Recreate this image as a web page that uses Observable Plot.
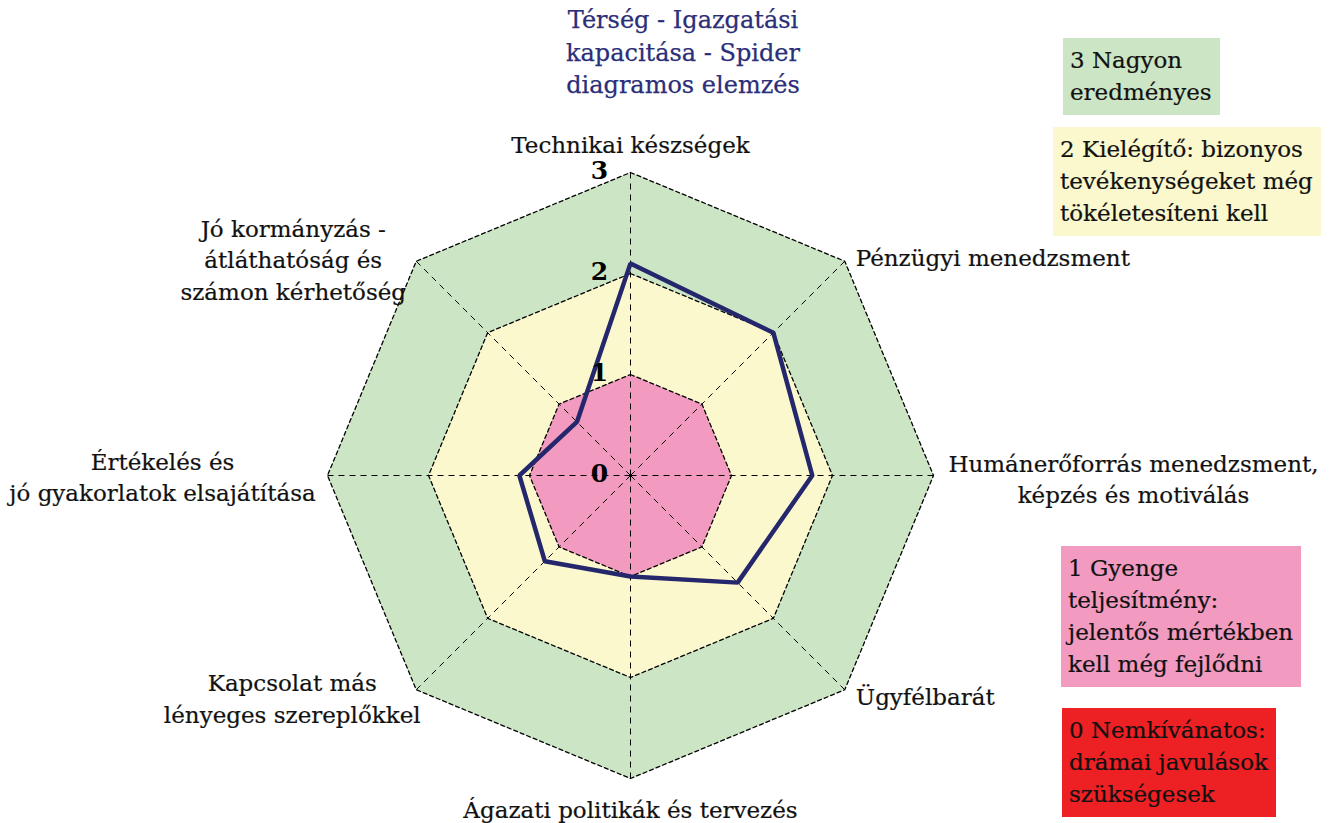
<!DOCTYPE html>
<html>
<head>
<meta charset="utf-8">
<script src="https://cdn.jsdelivr.net/npm/d3@7"></script>
<script src="https://cdn.jsdelivr.net/npm/@observablehq/plot@0.6"></script>
<style>
  html, body { margin: 0; padding: 0; background: #fff; }
  #wrap { position: relative; width: 1336px; height: 823px; overflow: hidden; font-family: "DejaVu Serif", serif; }
  #title { position: absolute; left: 508px; top: 4px; width: 350px; text-align: center; color: #2b2e78; font-size: 24px; line-height: 32.5px; -webkit-text-stroke: 0.25px #2b2e78; }
  .leg { position: absolute; padding: 6px 8px 7px 7px; font-size: 23px; line-height: 32px; color: #111; white-space: nowrap; -webkit-text-stroke: 0.2px #111; }
  #chart { position: absolute; left: 0; top: 0; }
</style>
</head>
<body>
<div id="wrap">
  <div id="chart"></div>
  <div id="title"></div>
  <div id="legend"></div>
</div>
<script>
// ---- data ----
const categories = [
  "Technikai készségek",
  "Pénzügyi menedzsment",
  "Humánerőforrás menedzsment,\nképzés és motiválás",
  "Ügyfélbarát",
  "Ágazati politikák és tervezés",
  "Kapcsolat más\nlényeges szereplőkkel",
  "Értékelés és\njó gyakorlatok elsajátítása",
  "Jó kormányzás -\nátláthatóság és\nszámon kérhetőség"
];
const values = [2.1, 2.0, 1.8, 1.5, 1.0, 1.2, 1.1, 0.75];
const levels = [3, 2, 1];
const tickLabels = ["0", "1", "2", "3"];
const titleLines = ["Térség - Igazgatási", "kapacitása - Spider", "diagramos elemzés"];
const legendTexts = [
  "3 Nagyon\neredményes",
  "2 Kielégítő: bizonyos\ntevékenységeket még\ntökéletesíteni kell",
  "1 Gyenge\nteljesítmény:\njelentős mértékben\nkell még fejlődni",
  "0 Nemkívánatos:\ndrámai javulások\nszükségesek"
];

// ---- styles / layout ----
const levelColors = {3: "#cce6c5", 2: "#fbf8ce", 1: "#f29ac0"};
const legendColors = ["#cce6c5", "#fbf8ce", "#f29ac0", "#ed2024"];
const legendPos = [[1063, 38], [1053, 127], [1061, 546], [1062, 708]];
const labelLayout = [
  {dx: 0, dy: -30, anchor: "middle"},
  {dx: 11, dy: -5, anchor: "start"},
  {dx: 200, dy: 2, anchor: "middle"},
  {dx: 11, dy: 5, anchor: "start"},
  {dx: 0, dy: 29, anchor: "middle"},
  {dx: -124, dy: 7, anchor: "middle"},
  {dx: -165, dy: 0, anchor: "middle"},
  {dx: -123, dy: -3, anchor: "middle"}
];
const W = 1336, H = 823, cx = 630, cy = 475, unit = 101;
const n = categories.length;
const ang = i => Math.PI / 2 - i * 2 * Math.PI / n;
const pt = (i, r) => ({x: r * Math.cos(ang(i)), y: r * Math.sin(ang(i))});

const rings = levels.flatMap(l => categories.map((c, i) => ({level: l, ...pt(i, l)})));
const spokes = categories.map((c, i) => ({...pt(i, 3)}));
const series = values.map((v, i) => ({name: categories[i], ...pt(i, v)}));
const labels = categories.map((c, i) => ({text: c, ...pt(i, 3), ...labelLayout[i]}));
const ticks = tickLabels.map((t, k) => ({text: t, x: 0, y: k}));

const marks = [];
for (const l of levels) {
  marks.push(Plot.line(rings.filter(d => d.level === l), {
    x: "x", y: "y", curve: "linear-closed",
    fill: levelColors[l], stroke: "#000", strokeWidth: 1.3, strokeDasharray: "4,3"
  }));
}
marks.push(Plot.link(spokes, {x1: 0, y1: 0, x2: "x", y2: "y", stroke: "#000", strokeWidth: 1, strokeDasharray: "6,5"}));
marks.push(Plot.line(series, {x: "x", y: "y", curve: "linear-closed", stroke: "#25276c", strokeWidth: 4.5, strokeLinejoin: "miter"}));
marks.push(Plot.text(ticks, {x: "x", y: "y", text: "text", dx: -31, dy: -2, fontSize: 25, fontWeight: "bold", fill: "#000", fontFamily: "DejaVu Serif"}));
for (const d of labels) {
  marks.push(Plot.text([d], {x: "x", y: "y", text: "text", dx: d.dx, dy: d.dy, textAnchor: d.anchor, lineHeight: 1.37, fontSize: 23, fill: "#111", stroke: "#111", strokeWidth: 0.2, fontFamily: "DejaVu Serif"}));
}

const chart = Plot.plot({
  width: W, height: H, margin: 0,
  x: {domain: [-cx / unit, (W - cx) / unit], range: [0, W], axis: null},
  y: {domain: [-(H - cy) / unit, cy / unit], range: [H, 0], axis: null},
  style: {background: "transparent", fontFamily: "DejaVu Serif"},
  marks
});
document.getElementById("chart").appendChild(chart);

document.getElementById("title").innerHTML = titleLines.join("<br>");
const leg = document.getElementById("legend");
legendTexts.forEach((t, i) => {
  const div = document.createElement("div");
  div.className = "leg";
  div.style.left = legendPos[i][0] + "px";
  div.style.top = legendPos[i][1] + "px";
  div.style.background = legendColors[i];
  div.innerHTML = t.split("\n").join("<br>");
  leg.appendChild(div);
});
</script>
</body>
</html>
